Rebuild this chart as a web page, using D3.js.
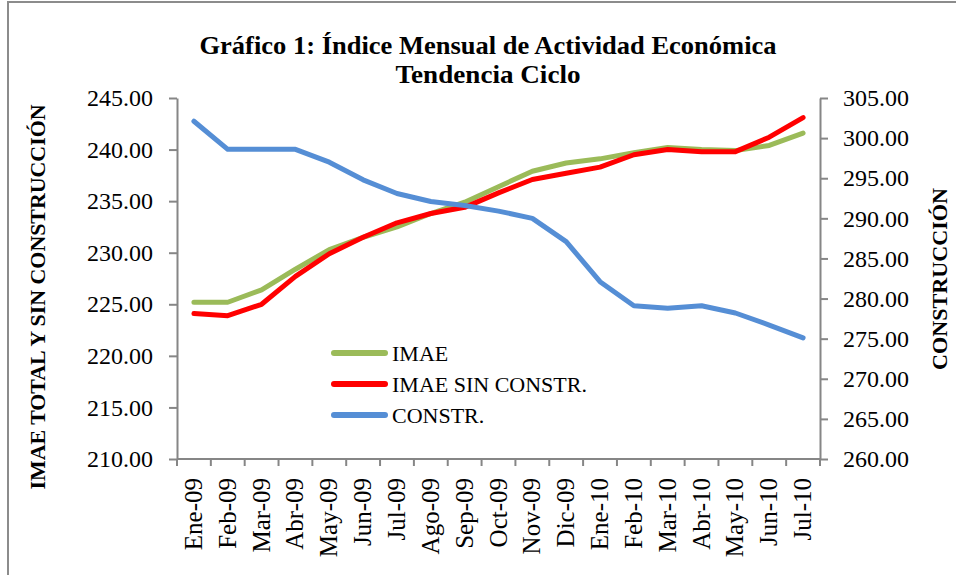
<!DOCTYPE html>
<html>
<head>
<meta charset="utf-8">
<script src="https://cdn.jsdelivr.net/npm/d3@7"></script>
<style>
  body { margin: 0; background: #fff; }
  svg text { font-family: "Liberation Serif", "Times New Roman", serif; fill: #000; }
</style>
</head>
<body>
<svg id="chart" width="956" height="575"></svg>
<script>
// data
const months = ["Ene-09","Feb-09","Mar-09","Abr-09","May-09","Jun-09","Jul-09","Ago-09","Sep-09","Oct-09",
  "Nov-09","Dic-09","Ene-10","Feb-10","Mar-10","Abr-10","May-10","Jun-10","Jul-10"]
const imae    = [225.2, 225.2, 226.4, 228.4, 230.3, 231.5, 232.5, 233.8, 234.9, 236.4,
  237.9, 238.7, 239.1, 239.7, 240.2, 240.0, 239.9, 240.4, 241.6]
const imaeSin = [224.1, 223.9, 225.0, 227.7, 229.9, 231.5, 232.9, 233.8, 234.4, 235.8,
  237.1, 237.7, 238.3, 239.5, 240.0, 239.8, 239.8, 241.2, 243.1]
const constr  = [302.1, 298.6, 298.6, 298.6, 297.0, 294.8, 293.1, 292.1, 291.6, 290.9,
  290.0, 287.1, 282.1, 279.1, 278.8, 279.1, 278.2, 276.7, 275.1]
const leftTicks  = [210, 215, 220, 225, 230, 235, 240, 245]
const rightTicks = [260, 265, 270, 275, 280, 285, 290, 295, 300, 305]

const series = [
  {name: "IMAE", values: imae, color: "#9BBB59", axis: "left"},
  {name: "IMAE SIN CONSTR.", values: imaeSin, color: "#FF0000", axis: "left"},
  {name: "CONSTR.", values: constr, color: "#558ED5", axis: "right"}
]

const svg = d3.select("#chart")
const plotL = 177, plotR = 820, plotT = 98, plotB = 459
const axisColor = "#868686"

// outer frame (only left and top edges visible)
svg.append("path")
  .attr("d", "M8,575 L8,2 L956,2")
  .attr("fill", "none").attr("stroke", "#8c8c8c").attr("stroke-width", 2)

const x = d3.scaleBand().domain(months).range([plotL, plotR])
const yL = d3.scaleLinear().domain([210, 245]).range([plotB, plotT])
const yR = d3.scaleLinear().domain([260, 305]).range([plotB, plotT])

const fmt = d3.format(".2f")

function styleAxis(g) {
  g.select(".domain").attr("stroke", axisColor).attr("stroke-width", 2)
  g.selectAll(".tick line").attr("stroke", axisColor).attr("stroke-width", 2)
  g.selectAll("text").attr("font-size", "24px").attr("fill", "#000")
    .attr("font-family", "Liberation Serif, serif")
}

const gl = svg.append("g").attr("transform", `translate(${plotL},0)`)
  .call(d3.axisLeft(yL).tickValues(leftTicks).tickFormat(fmt).tickSize(8).tickSizeOuter(0).tickPadding(16))
styleAxis(gl)

const gr = svg.append("g").attr("transform", `translate(${plotR},0)`)
  .call(d3.axisRight(yR).tickValues(rightTicks).tickFormat(fmt).tickSize(8).tickSizeOuter(0).tickPadding(15))
styleAxis(gr)

// x axis: line + ticks at band edges
const gx = svg.append("g").attr("transform", `translate(0,${plotB})`)
gx.append("line").attr("x1", plotL).attr("x2", plotR)
  .attr("stroke", axisColor).attr("stroke-width", 2)
const edges = months.map(m => x(m)).concat([plotR])
gx.selectAll(".xt").data(edges).enter().append("line")
  .attr("x1", d => d).attr("x2", d => d).attr("y1", 0).attr("y2", 7)
  .attr("stroke", axisColor).attr("stroke-width", 2)
gx.selectAll(".xl").data(months).enter().append("text")
  .attr("transform", d => `translate(${x(d) + x.bandwidth() / 2 + 8},19) rotate(-90)`)
  .attr("text-anchor", "end")
  .attr("font-size", "25px")
  .text(d => d)

// lines
series.forEach(s => {
  const y = s.axis === "left" ? yL : yR
  const line = d3.line()
    .x((d, i) => x(months[i]) + x.bandwidth() / 2)
    .y(d => y(d))
  svg.append("path")
    .datum(s.values)
    .attr("d", line)
    .attr("fill", "none")
    .attr("stroke", s.color)
    .attr("stroke-width", 5)
    .attr("stroke-linecap", "round")
    .attr("stroke-linejoin", "round")
})

// legend
const leg = svg.append("g")
series.forEach((s, i) => {
  const yy = 353 + i * 31
  leg.append("line").attr("x1", 334).attr("x2", 385).attr("y1", yy).attr("y2", yy)
    .attr("stroke", s.color).attr("stroke-width", 6).attr("stroke-linecap", "round")
  leg.append("text").attr("x", 392).attr("y", yy + 8).attr("font-size", "22px").text(s.name)
})

// titles
svg.append("text").attr("x", 488).attr("y", 54).attr("text-anchor", "middle")
  .attr("font-size", "25px").attr("font-weight", "bold")
  .attr("textLength", 577).attr("lengthAdjust", "spacingAndGlyphs")
  .text("Gráfico 1: Índice Mensual  de Actividad Económica")
svg.append("text").attr("x", 488).attr("y", 83).attr("text-anchor", "middle")
  .attr("font-size", "25px").attr("font-weight", "bold")
  .attr("textLength", 185).attr("lengthAdjust", "spacingAndGlyphs")
  .text("Tendencia Ciclo")

svg.append("text").attr("transform", "translate(45,297) rotate(-90)")
  .attr("text-anchor", "middle").attr("font-size", "21px").attr("font-weight", "bold")
  .attr("textLength", 385).attr("lengthAdjust", "spacingAndGlyphs")
  .text("IMAE TOTAL Y SIN CONSTRUCCIÓN")
svg.append("text").attr("transform", "translate(947,279) rotate(-90)")
  .attr("text-anchor", "middle").attr("font-size", "21px").attr("font-weight", "bold")
  .attr("textLength", 182).attr("lengthAdjust", "spacingAndGlyphs")
  .text("CONSTRUCCIÓN")
</script>
</body>
</html>
